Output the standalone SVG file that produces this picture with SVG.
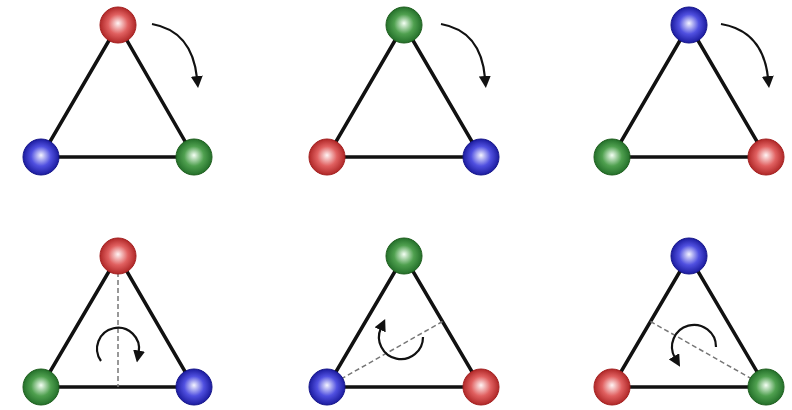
<svg xmlns="http://www.w3.org/2000/svg" width="792" height="410" viewBox="0 0 792 410">
<style>
.edge{stroke:#111;stroke-width:3.5;fill:none;stroke-linecap:round}
.dash{stroke:#777;stroke-width:1.5;stroke-dasharray:5 3;fill:none}
.arrow{stroke:#111;stroke-width:2.2;fill:none;marker-end:url(#ah)}
.ball{stroke-width:1}
.r{fill:url(#gr);stroke:#a32020}
.g{fill:url(#gg);stroke:#1e5e1e}
.b{fill:url(#gb);stroke:#15158a}
</style>
<defs>
<marker id="ah" viewBox="0 0 12 12" refX="2" refY="6" markerWidth="12" markerHeight="12" markerUnits="userSpaceOnUse" orient="auto">
<path d="M0,0 L12,6 L0,12 z" fill="#111"/>
</marker>
<radialGradient id="gr" cx="0.5" cy="0.5" r="0.5" fx="0.5" fy="0.45">
<stop offset="0" stop-color="#fff4f4"/><stop offset="0.55" stop-color="#e06060"/><stop offset="1" stop-color="#b02828"/>
</radialGradient>
<radialGradient id="gg" cx="0.5" cy="0.5" r="0.5" fx="0.5" fy="0.45">
<stop offset="0" stop-color="#f4fff4"/><stop offset="0.55" stop-color="#4fa04f"/><stop offset="1" stop-color="#24702a"/>
</radialGradient>
<radialGradient id="gb" cx="0.5" cy="0.5" r="0.5" fx="0.5" fy="0.45">
<stop offset="0" stop-color="#f4f4ff"/><stop offset="0.55" stop-color="#5050e0"/><stop offset="1" stop-color="#1c1ca0"/>
</radialGradient>
</defs>
<rect width="792" height="410" fill="#fff"/>
<g id="connectors">
<path class="edge" d="M118,25 L41,157 L194,157 Z"/>
<path class="edge" d="M404,25 L327,157 L481,157 Z"/>
<path class="edge" d="M689,25 L612,157 L766,157 Z"/>
<path class="arrow" d="M152,24 Q192,31 197,78"/>
<path class="arrow" d="M441,24 Q481,31 485,78"/>
<path class="arrow" d="M721,24 Q763,31 768,78"/>
<path class="edge" d="M118,256 L41,387 L194,387 Z"/>
<path class="edge" d="M404,256 L327,387 L481,387 Z"/>
<path class="edge" d="M689,256 L612,387 L766,387 Z"/>
<path class="dash" d="M118,256 L118,387"/>
<path class="dash" d="M327,387 L442.5,321.5"/>
<path class="dash" d="M766,387 L650.5,321.5"/>
<path class="arrow" d="M101,361 A21,21 0 1 1 138.7,352.6"/>
<path class="arrow" d="M423,337 A22,22 0 1 1 381,328"/>
<path class="arrow" d="M716,347 A22,22 0 1 0 675,358"/>
</g>
<g id="t1-top"><circle class="ball r" cx="118" cy="25" r="18"/></g>
<g id="t1-left"><circle class="ball b" cx="41" cy="157" r="18"/></g>
<g id="t1-right"><circle class="ball g" cx="194" cy="157" r="18"/></g>
<g id="t2-top"><circle class="ball g" cx="404" cy="25" r="18"/></g>
<g id="t2-left"><circle class="ball r" cx="327" cy="157" r="18"/></g>
<g id="t2-right"><circle class="ball b" cx="481" cy="157" r="18"/></g>
<g id="t3-top"><circle class="ball b" cx="689" cy="25" r="18"/></g>
<g id="t3-left"><circle class="ball g" cx="612" cy="157" r="18"/></g>
<g id="t3-right"><circle class="ball r" cx="766" cy="157" r="18"/></g>
<g id="t4-top"><circle class="ball r" cx="118" cy="256" r="18"/></g>
<g id="t4-left"><circle class="ball g" cx="41" cy="387" r="18"/></g>
<g id="t4-right"><circle class="ball b" cx="194" cy="387" r="18"/></g>
<g id="t5-top"><circle class="ball g" cx="404" cy="256" r="18"/></g>
<g id="t5-left"><circle class="ball b" cx="327" cy="387" r="18"/></g>
<g id="t5-right"><circle class="ball r" cx="481" cy="387" r="18"/></g>
<g id="t6-top"><circle class="ball b" cx="689" cy="256" r="18"/></g>
<g id="t6-left"><circle class="ball r" cx="612" cy="387" r="18"/></g>
<g id="t6-right"><circle class="ball g" cx="766" cy="387" r="18"/></g>
</svg>
